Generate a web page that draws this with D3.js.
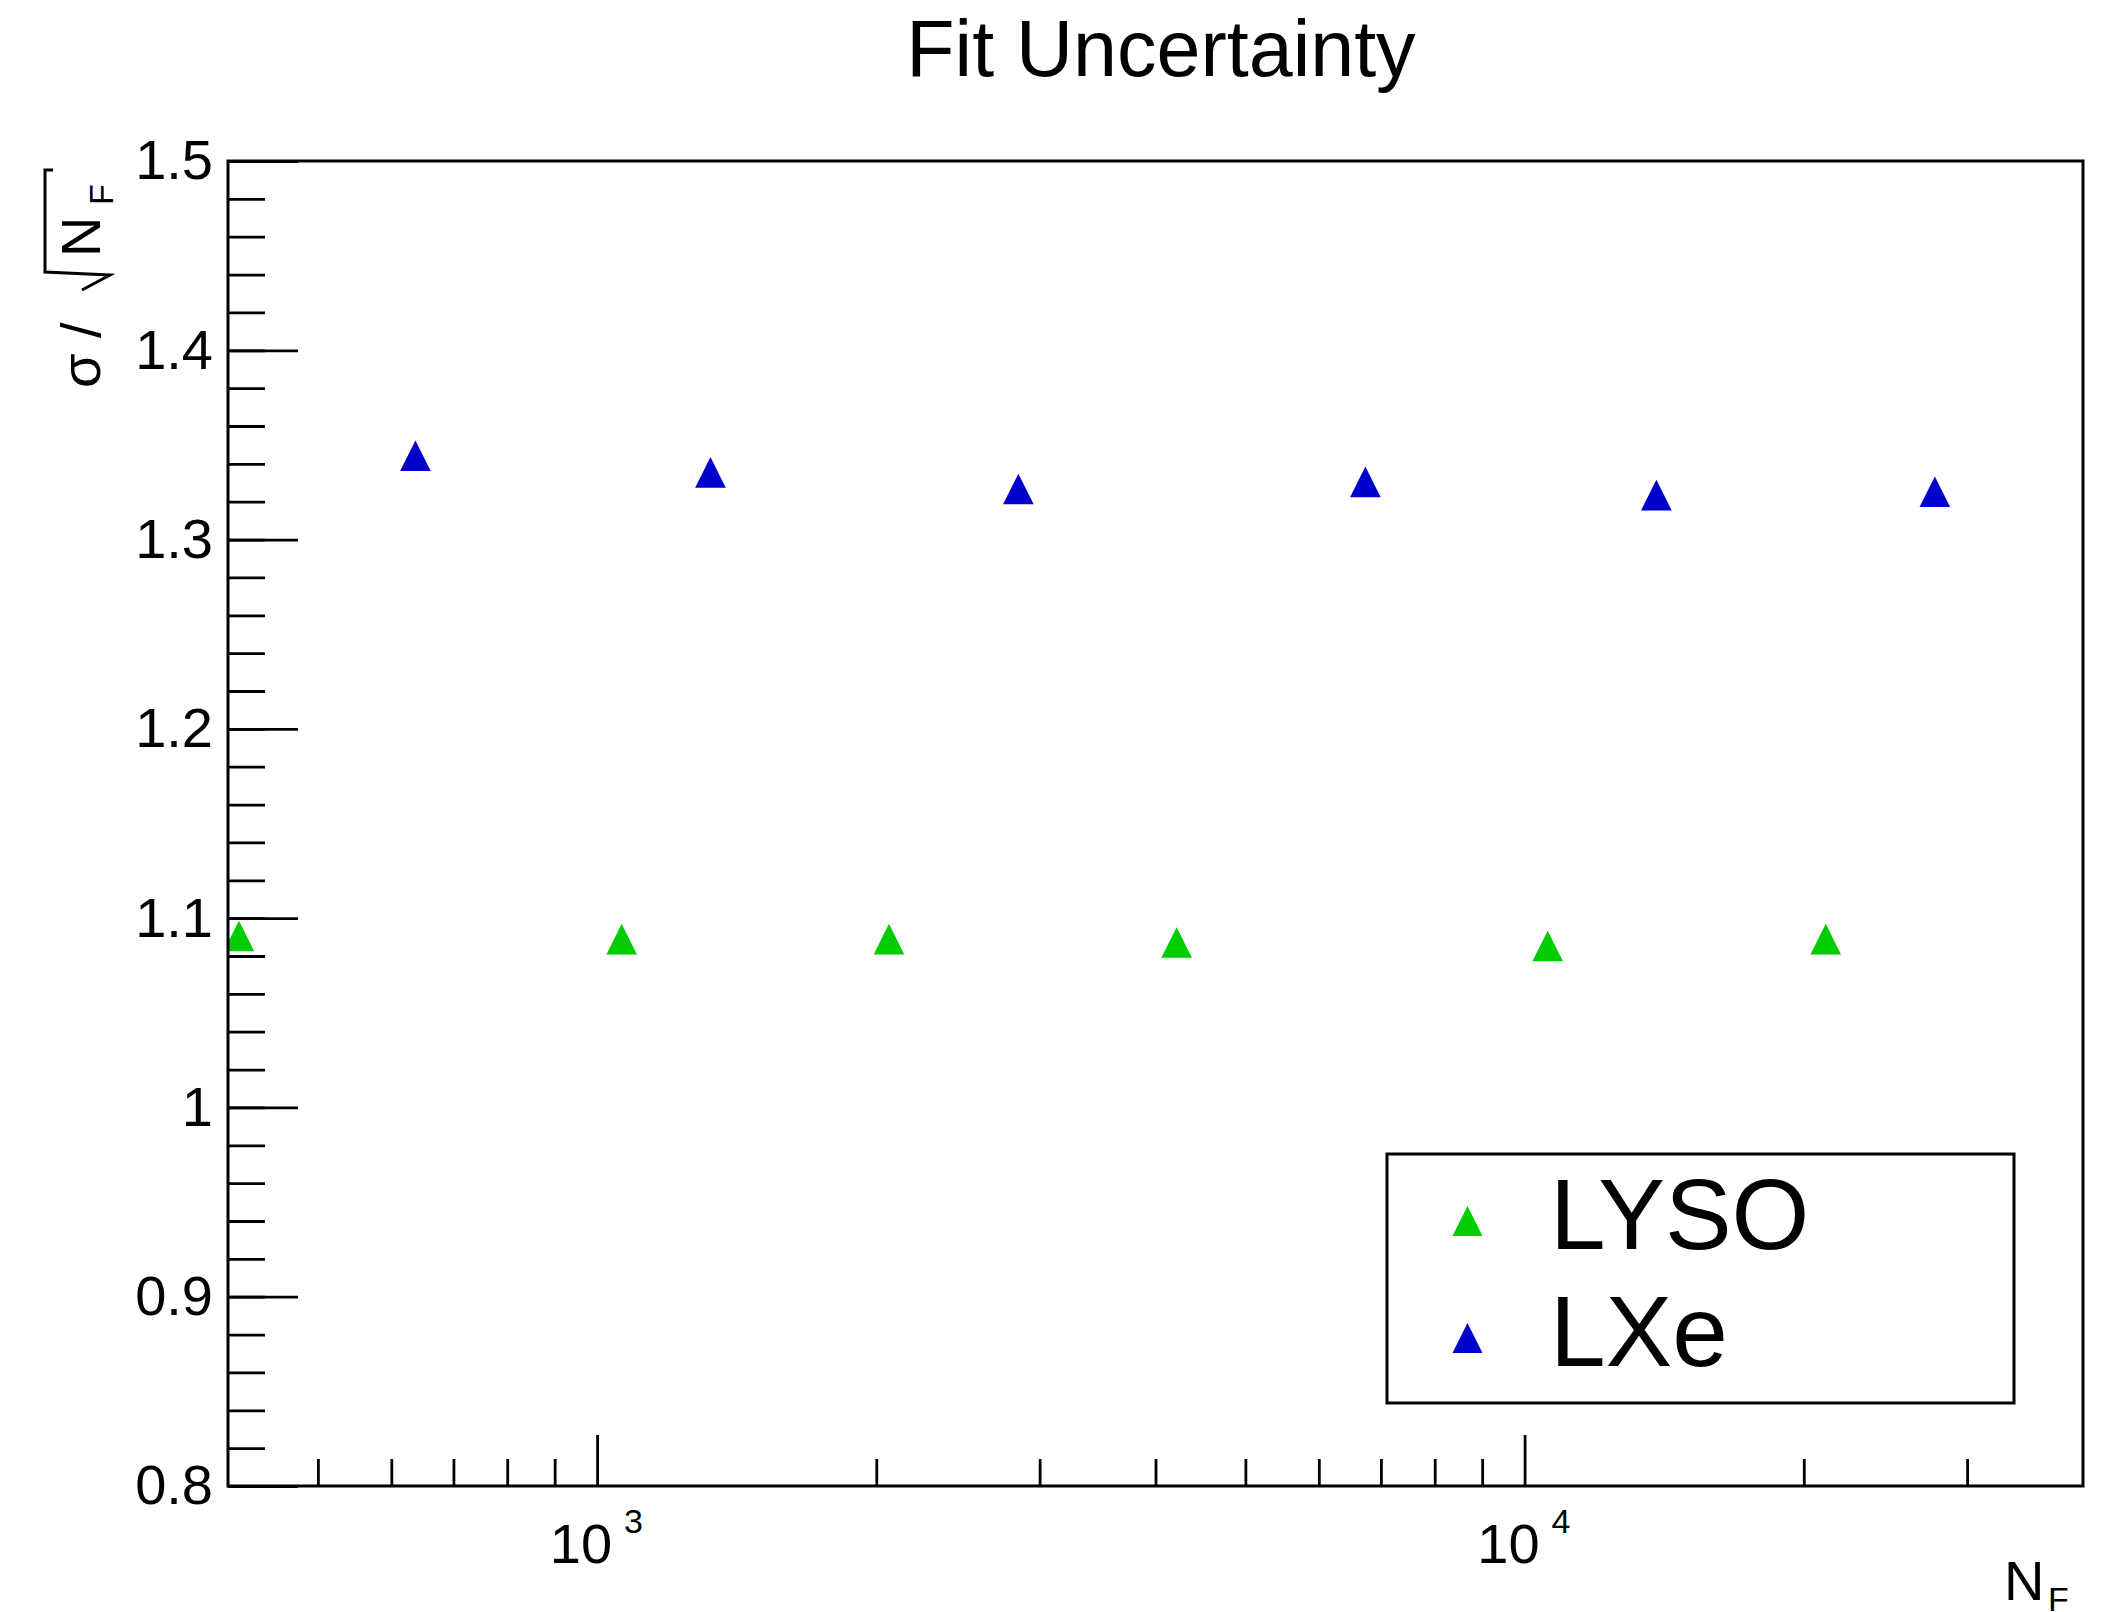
<!DOCTYPE html>
<meta charset="utf-8">
<script src="https://cdn.jsdelivr.net/npm/d3@7"></script>
<style>
body { margin: 0; background: #fff; }
text { font-family: "Liberation Sans", Arial, Helvetica, sans-serif; fill: #000; }
</style>
<body>
<script>

// data
var lysoN     = [411, 1063, 2064, 4215, 10590, 21120];
var lysoSigma = [1.0906, 1.0889, 1.0889, 1.0871, 1.0853, 1.0889];
var lxeN      = [637, 1325, 2846, 6735, 13870, 27690];
var lxeSigma  = [1.3443, 1.3355, 1.3267, 1.3305, 1.3235, 1.3253];

var series = [
  {name: "LYSO", color: "#00cc00", n: lysoN, s: lysoSigma},
  {name: "LXe",  color: "#0000cc", n: lxeN,  s: lxeSigma}
];

// axis ticks
var yMajor  = [0.8, 0.9, 1.0, 1.1, 1.2, 1.3, 1.4, 1.5];
var yLabels = ["0.8", "0.9", "1", "1.1", "1.2", "1.3", "1.4", "1.5"];
var xMajor  = [1000, 10000];
var xExpo   = ["3", "4"];
var xMinor  = [500, 600, 700, 800, 900, 2000, 3000, 4000, 5000, 6000, 7000, 8000, 9000, 20000, 30000];

var width = 2115,
    height = 1612;

// plot frame (window.top is reserved, so use other names)
var frameL = 228, frameR = 2083, frameT = 161, frameB = 1486;

var x = d3.scaleLog().domain([400, 40000]).range([frameL, frameR]);
var y = d3.scaleLinear().domain([0.8, 1.5]).range([frameB, frameT]);

var svg = d3.select("body").append("svg")
    .attr("width", width)
    .attr("height", height);

svg.append("rect")
    .attr("width", width)
    .attr("height", height)
    .attr("fill", "#fff");

svg.append("clipPath").attr("id", "plotclip")
  .append("rect")
    .attr("x", frameL).attr("y", frameT)
    .attr("width", frameR - frameL).attr("height", frameB - frameT);

// title
svg.append("text")
    .attr("x", 1161)
    .attr("y", 76)
    .attr("text-anchor", "middle")
    .style("font-size", "79px")
    .text("Fit Uncertainty");

// triangle marker around a point
function tri(px, py, s) {
  return "M" + (px - s) + "," + (py + s) +
         "L" + (px + s) + "," + (py + s) +
         "L" + px + "," + (py - s) + "Z";
}

// points
var pts = svg.append("g").attr("clip-path", "url(#plotclip)");
series.forEach(function(sr) {
  pts.selectAll(null)
      .data(sr.n.map(function(n, i) { return [n, sr.s[i]]; }))
      .enter()
      .append("path")
      .attr("d", function(d) { return tri(x(d[0]), y(d[1]), 15.3); })
      .attr("fill", sr.color);
});

// y axis (ticks inside the frame)
var yMinorAxis = svg.append("g")
    .attr("transform", "translate(" + frameL + ",0)")
    .call(d3.axisLeft(y).ticks(35).tickSize(-37).tickFormat(""));
var yMajorAxis = svg.append("g")
    .attr("transform", "translate(" + frameL + ",0)")
    .call(d3.axisLeft(y).tickValues(yMajor).tickSize(-70).tickPadding(15)
      .tickFormat(function(d, i) { return yLabels[i]; }));

// x axis
var xMinorAxis = svg.append("g")
    .attr("transform", "translate(0," + frameB + ")")
    .call(d3.axisBottom(x).tickValues(xMinor).tickSize(-27).tickFormat(""));
var xMajorAxis = svg.append("g")
    .attr("transform", "translate(0," + frameB + ")")
    .call(d3.axisBottom(x).tickValues(xMajor).tickSize(-51).tickFormat(""));

[yMinorAxis, yMajorAxis, xMinorAxis, xMajorAxis].forEach(function(g) {
  g.select(".domain").remove();
  g.selectAll("line").attr("stroke-width", 2.8);
  g.attr("font-family", null).attr("font-size", 56);
});

// 10^n labels
xMajor.forEach(function(v, i) {
  svg.append("text")
      .attr("x", x(v) + 15)
      .attr("y", 1563)
      .attr("text-anchor", "end")
      .style("font-size", "56px")
      .text("10");
  svg.append("text")
      .attr("x", x(v) + 27)
      .attr("y", 1533)
      .style("font-size", "34px")
      .text(xExpo[i]);
});

// frame
svg.append("rect")
    .attr("x", frameL).attr("y", frameT)
    .attr("width", frameR - frameL).attr("height", frameB - frameT)
    .attr("fill", "none")
    .attr("stroke", "#000")
    .attr("stroke-width", 3);

// x title N_F
svg.append("text").attr("x", 2004).attr("y", 1600).style("font-size", "56px").text("N");
svg.append("text").attr("x", 2048).attr("y", 1611).style("font-size", "34px").text("F");

// y title  sigma / sqrt(N_F), rotated
var yt = svg.append("g").attr("transform", "translate(100,388) rotate(-90)");
yt.append("text").attr("x", 0).attr("y", 0).style("font-size", "56px").text("\u03c3 /");
yt.append("path")
    .attr("d", "M98,-18L113,10L116,-55L218,-55L218,-47")
    .attr("fill", "none")
    .attr("stroke", "#000")
    .attr("stroke-width", 3);
yt.append("text").attr("x", 131).attr("y", 0).style("font-size", "56px").text("N");
yt.append("text").attr("x", 183).attr("y", 13).style("font-size", "34px").text("F");

// legend
var lg = svg.append("g");
lg.append("rect")
    .attr("x", 1387).attr("y", 1154)
    .attr("width", 627).attr("height", 249)
    .attr("fill", "#fff")
    .attr("stroke", "#000")
    .attr("stroke-width", 3);

var legY = d3.scalePoint().domain(series.map(function(d) { return d.name; })).range([1249, 1366]);

series.forEach(function(sr) {
  lg.append("path")
      .attr("d", tri(1467.5, legY(sr.name) - 28, 15))
      .attr("fill", sr.color);
  lg.append("text")
      .attr("x", 1550)
      .attr("y", legY(sr.name))
      .style("font-size", "100px")
      .text(sr.name);
});

</script>
</body>
